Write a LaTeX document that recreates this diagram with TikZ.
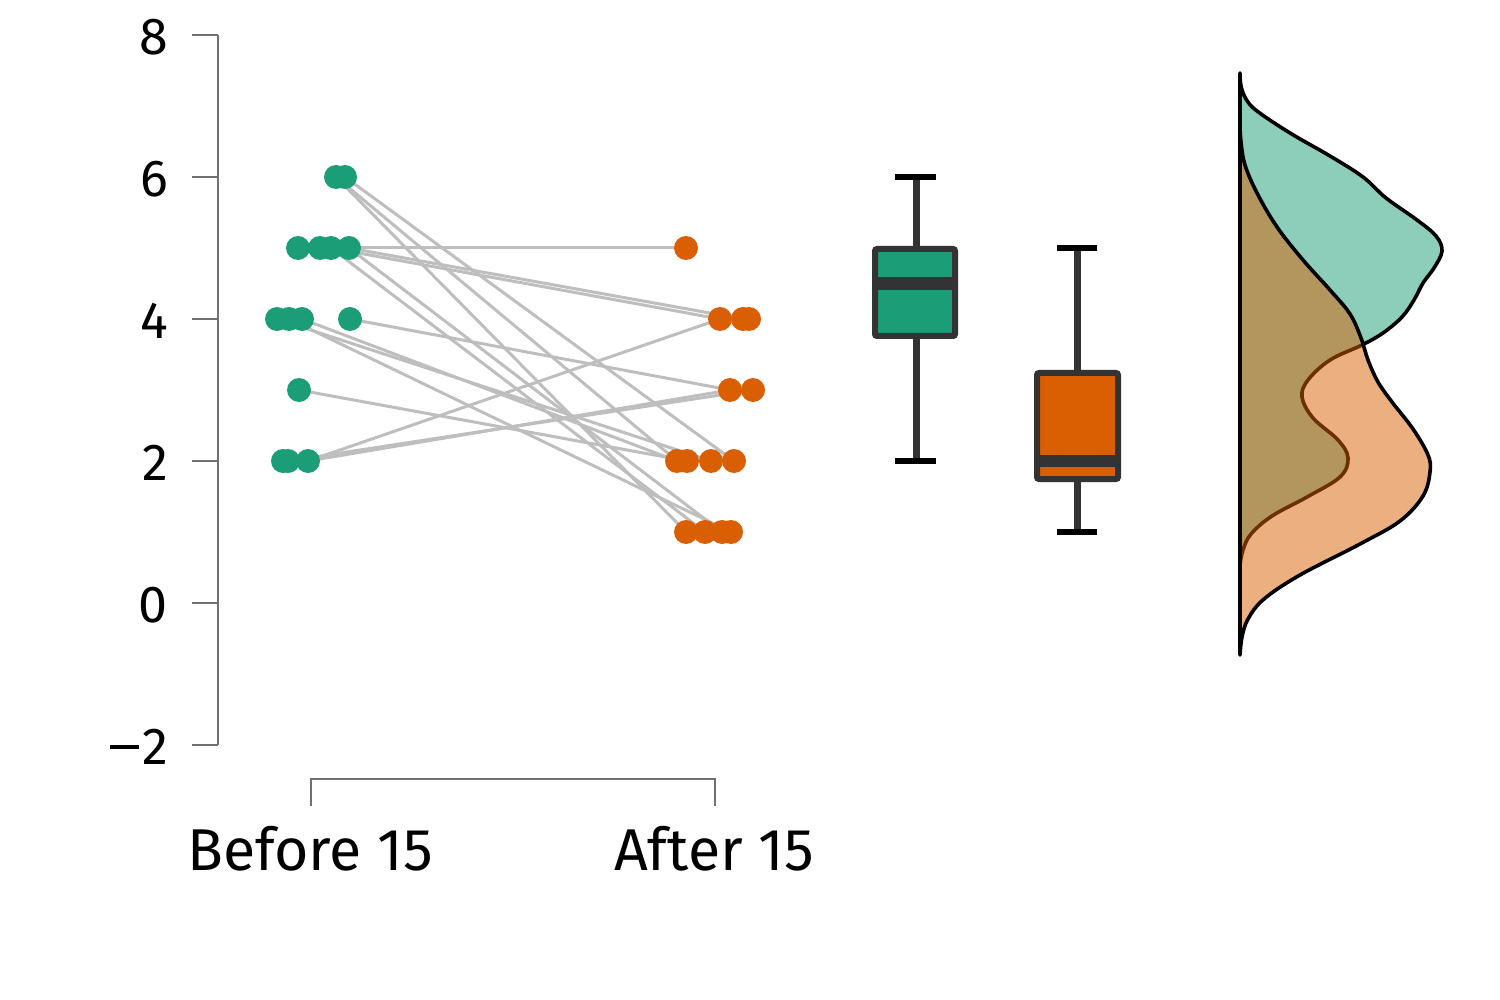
\documentclass[tikz,border=0pt]{standalone}
\usepackage{fontspec}
\setmainfont{Fira Sans}
\definecolor{grn}{HTML}{1B9E77}
\definecolor{org}{HTML}{D95F02}
\definecolor{boxline}{HTML}{333333}
\definecolor{pairgray}{HTML}{BEBEBE}
\definecolor{axisgray}{HTML}{707070}
\newcommand{\negsign}{\rule[0.3em]{0.55em}{0.075em}\kern0.06em}
\begin{document}
\begin{tikzpicture}[x=1pt,y=-1pt,
  axisline/.style={draw=axisgray, line width=1.6pt},
  ticklab/.style={anchor=east, inner sep=0pt, font=\fontsize{52}{54}\selectfont},
  xlab/.style={inner sep=0pt, font=\fontsize{59}{61}\selectfont},
  pairline/.style={draw=pairgray, line width=3pt},
  gdot/.style={circle, fill=grn, inner sep=0pt, minimum size=24pt},
  odot/.style={circle, fill=org, inner sep=0pt, minimum size=24pt},
  whisk/.style={draw=boxline, line width=7pt},
  capline/.style={draw=black, line width=6pt},
  boxrect/.style={draw=boxline, line width=6pt, rounded corners=2pt},
  medline/.style={draw=boxline, line width=12.5pt},
  dens/.style={draw=black, line width=3.6pt, line join=round, fill opacity=0.5}
]
\useasboundingbox (0,0) rectangle (1500,1000);

% y axis
\draw[axisline] (218,35) -- (218,745);
\foreach \v/\t in {-2/{\negsign 2},0/0,2/2,4/4,6/6,8/8}{
  \draw[axisline] (192,{603-71*\v}) -- (218,{603-71*\v});
  \node[ticklab] (tick\v) at (168,{605-71*\v}) {\t};
}

% x bracket
\draw[axisline] (311,806) -- (311,779) -- (715,779) -- (715,806);
\node[xlab] (labB) at (310,849) {Before 15};
\node[xlab] (labA) at (714,849) {After 15};

% point coordinates
\coordinate (b6a) at (336,177); \coordinate (b6b) at (345,177);
\coordinate (b5a) at (298,248); \coordinate (b5b) at (320,248);
\coordinate (b5c) at (331,248); \coordinate (b5d) at (349,248);
\coordinate (b4a) at (277,319); \coordinate (b4b) at (289,319);
\coordinate (b4c) at (302,319); \coordinate (b4d) at (350,319);
\coordinate (b3)  at (299,390);
\coordinate (b2a) at (283,461); \coordinate (b2b) at (288,461);
\coordinate (b2c) at (308,461);

\coordinate (a5)  at (686,248);
\coordinate (a4a) at (720,319); \coordinate (a4b) at (743,319);
\coordinate (a4c) at (749,319);
\coordinate (a3a) at (730,390); \coordinate (a3b) at (753,390);
\coordinate (a2a) at (677,461); \coordinate (a2b) at (687,461);
\coordinate (a2c) at (711,461); \coordinate (a2d) at (734,461);
\coordinate (a1a) at (686,532); \coordinate (a1b) at (705,532);
\coordinate (a1c) at (722,532); \coordinate (a1d) at (731,532);

% pair lines
\draw[pairline] (b6b) -- (a2d);
\draw[pairline] (b6a) -- (a1a);
\draw[pairline] (b6a) -- (a2a);
\draw[pairline] (b5d) -- (a5);
\draw[pairline] (b5d) -- (a4b);
\draw[pairline] (b5c) -- (a4a);
\draw[pairline] (b5d) -- (a1c);
\draw[pairline] (b5c) -- (a1b);
\draw[pairline] (b4d) -- (a3a);
\draw[pairline] (b4c) -- (a2a);
\draw[pairline] (b4b) -- (a1d);
\draw[pairline] (b4a) -- (a2c);
\draw[pairline] (b3)  -- (a2b);
\draw[pairline] (b2c) -- (a4a);
\draw[pairline] (b2c) -- (a3a);
\draw[pairline] (b2b) -- (a3b);

% dots
\foreach \p in {b6a,b6b,b5a,b5b,b5c,b5d,b4a,b4b,b4c,b4d,b3,b2a,b2b,b2c}
  \node[gdot] (d\p) at (\p) {};
\foreach \p in {a5,a4a,a4b,a4c,a3a,a3b,a2a,a2b,a2c,a2d,a1a,a1b,a1c,a1d}
  \node[odot] (d\p) at (\p) {};

% green box plot
\draw[whisk] (916,177) -- (916,249);
\draw[whisk] (916,336) -- (916,461);
\draw[capline] (895,177) -- (936,177);
\draw[capline] (895,461) -- (936,461);
\draw[boxrect, fill=grn] (875,249) rectangle (955,336);
\draw[medline] (875,283.5) -- (955,283.5);

% orange box plot
\draw[whisk] (1077,248) -- (1077,373);
\draw[whisk] (1077,479) -- (1077,532);
\draw[capline] (1057,248) -- (1097,248);
\draw[capline] (1057,532) -- (1097,532);
\draw[boxrect, fill=org] (1037,373) rectangle (1118,479);
\draw[medline] (1037,461) -- (1118,461);

% densities
\draw[dens, fill=grn] plot[smooth, tension=0.6] coordinates {
  (1240,73) (1241,86) (1246,99) (1257,111) (1290,133) (1330,156) (1363,177)
  (1386,198) (1417,220) (1436,236) (1442,251) (1434,268) (1423,283)
  (1414,300) (1402,317) (1383,333) (1362,345) (1330,360) (1308,380)
  (1302,397) (1313,418) (1338,440) (1348,458) (1340,477) (1307,497)
  (1272,516) (1251,534) (1243,550) (1240,565)} -- cycle;
\draw[dens, fill=org] plot[smooth, tension=0.6] coordinates {
  (1240,125) (1241,142) (1245,165) (1257,193) (1277,227) (1303,260)
  (1330,290) (1350,314) (1361,338) (1368,360) (1378,382) (1392,402)
  (1413,429) (1428,455) (1430,472) (1423,496) (1400,521) (1360,544)
  (1300,575) (1264,599) (1248,619) (1242,637) (1240,655)} -- cycle;
\end{tikzpicture}
\end{document}
